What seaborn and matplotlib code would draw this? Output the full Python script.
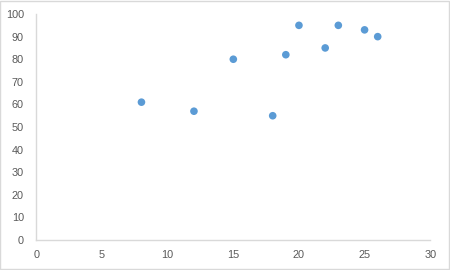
import matplotlib
matplotlib.use("Agg")
import matplotlib.pyplot as plt
import seaborn as sns
import pandas as pd

x_vals = [8, 12, 15, 18, 19, 20, 22, 23, 25, 26]
y_vals = [61, 57, 80, 55, 82, 95, 85, 95, 93, 90]
x_ticks = [0, 5, 10, 15, 20, 25, 30]
y_ticks = [0, 10, 20, 30, 40, 50, 60, 70, 80, 90, 100]

df = pd.DataFrame({"x": x_vals, "y": y_vals})

sns.set_style("white")
plt.rcParams["font.family"] = ["Liberation Sans", "DejaVu Sans"]

fig = plt.figure(figsize=(4.5, 2.7), dpi=100)
ax = fig.add_axes([0.081, 0.111, 0.875, 0.837])
sns.scatterplot(data=df, x="x", y="y", ax=ax, color="#5B9BD5", s=30,
                edgecolor="none", linewidth=0, zorder=3)
ax.set_xlim(0, 30)
ax.set_ylim(0, 100)
ax.set_xticks(x_ticks)
ax.set_yticks(y_ticks)
ax.set_xlabel("")
ax.set_ylabel("")
for side in ["top", "right"]:
    ax.spines[side].set_visible(False)
for side in ["left", "bottom"]:
    ax.spines[side].set_color("#D9D9D9")
    ax.spines[side].set_linewidth(1)
ax.tick_params(axis="both", length=0, labelsize=7.8, labelcolor="#595959")
ax.tick_params(axis="x", pad=7)
ax.tick_params(axis="y", pad=9)
ax.patch.set_alpha(0)

border = plt.Rectangle((0.001, 0.002), 0.997, 0.995, transform=fig.transFigure,
                       fill=False, edgecolor="#D9D9D9", linewidth=1)
fig.patches.append(border)

fig.savefig("out.png", dpi=100)
